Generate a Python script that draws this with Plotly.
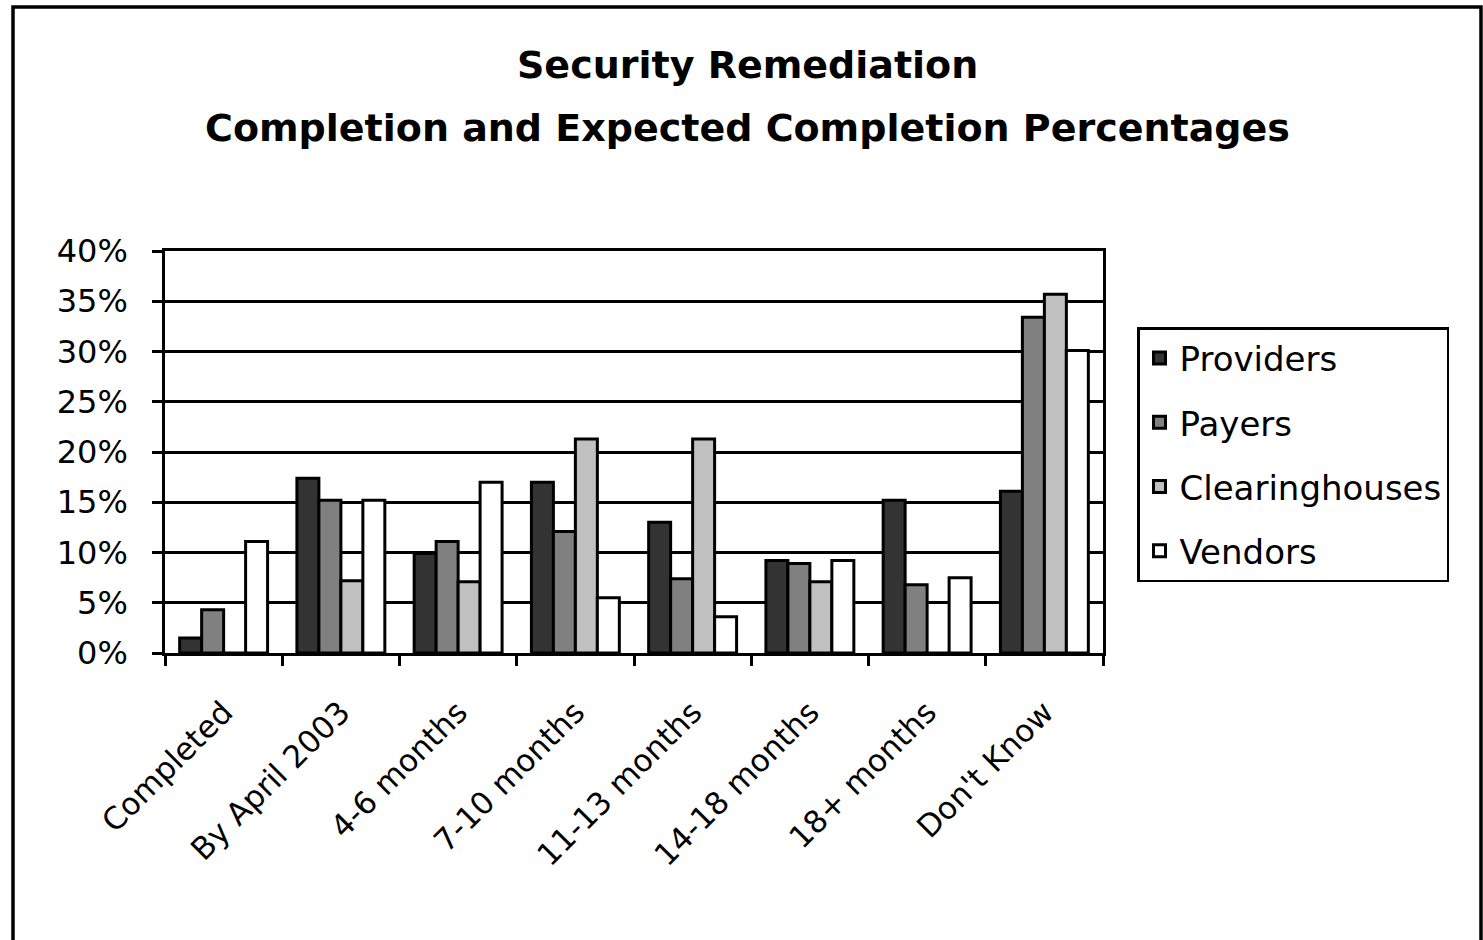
import plotly.graph_objects as go

categories = ["Completed", "By April 2003", "4-6 months", "7-10 months",
              "11-13 months", "14-18 months", "18+ months", "Don't Know"]
providers = [1.5, 17.4, 9.9, 17.0, 13.0, 9.2, 15.2, 16.1]
payers = [4.3, 15.2, 11.1, 12.1, 7.4, 8.9, 6.8, 33.4]
clearinghouses = [0, 7.2, 7.1, 21.3, 21.3, 7.1, 0, 35.7]
vendors = [11.1, 15.2, 17.0, 5.5, 3.6, 9.2, 7.5, 30.1]
series_names = ["Providers", "Payers", "Clearinghouses", "Vendors"]
series_colors = ["#333333", "#808080", "#C0C0C0", "#FFFFFF"]
y_ticks = [0, 5, 10, 15, 20, 25, 30, 35, 40]
y_tick_labels = ["0%", "5%", "10%", "15%", "20%", "25%", "30%", "35%", "40%"]

FONT = "DejaVu Sans"
W, H = 1483, 940
L, R, T, B = 165, 1103, 251, 653  # plot area pixel bounds

fig = go.Figure()
for name, vals, col in zip(series_names,
                           [providers, payers, clearinghouses, vendors],
                           series_colors):
    fig.add_trace(go.Bar(
        x=categories, y=vals, name=name, legendgroup=name,
        marker=dict(color=col, line=dict(color="black", width=3)),
    ))

pw, ph = R - L, B - T
def px_x(p):
    return (p - L) / pw
def px_y(p):
    return (B - p) / ph

fig.update_layout(
    width=W, height=H,
    margin=dict(l=L, r=W - R, t=T, b=H - B, autoexpand=False),
    paper_bgcolor="white", plot_bgcolor="white",
    barmode="group", bargap=0.25, bargroupgap=0,
    font=dict(family=FONT, color="black", size=30),
    showlegend=True,
    legend=dict(
        x=px_x(1137), y=px_y(327), xanchor="left", yanchor="top",
        bordercolor="black", borderwidth=2.5, bgcolor="white",
        font=dict(family=FONT, size=34, color="black"),
        tracegroupgap=17, itemwidth=30,
    ),
    xaxis=dict(
        type="category", tickangle=-45, showline=True, linecolor="black",
        linewidth=2.5, mirror=True, ticks="outside", tickson="boundaries",
        ticklen=10, tickwidth=2.5, tickcolor="black", showgrid=False,
        ticklabelstandoff=26,
        tickfont=dict(family=FONT, size=31, color="black"),
    ),
    yaxis=dict(
        range=[0, 40], tickmode="array", tickvals=y_ticks, ticktext=y_tick_labels,
        showline=True, linecolor="black", linewidth=2.5, mirror=True,
        ticks="outside", ticklen=10, tickwidth=2.5, tickcolor="black",
        showgrid=True, gridcolor="black", gridwidth=2.5, zeroline=False,
        ticklabelstandoff=18,
        tickfont=dict(family=FONT, size=32, color="black"),
    ),
    annotations=[
        dict(text="<b>Security Remediation</b>", xref="paper", yref="paper",
             x=px_x(747), y=px_y(65), xanchor="center", yanchor="middle",
             showarrow=False, font=dict(family=FONT, size=38, color="black")),
        dict(text="<b>Completion and Expected Completion Percentages</b>",
             xref="paper", yref="paper", x=px_x(747), y=px_y(128),
             xanchor="center", yanchor="middle", showarrow=False,
             font=dict(family=FONT, size=38, color="black")),
    ],
    shapes=[
        dict(type="rect", xref="paper", yref="paper",
             x0=px_x(13), x1=px_x(1481), y0=px_y(960), y1=px_y(7),
             line=dict(color="black", width=3.5), fillcolor="rgba(0,0,0,0)",
             layer="above"),
    ],
)

fig.write_html("out.html", config={"displayModeBar": False},
               post_script="document.body.style.margin='0';document.body.style.overflow='hidden';")
